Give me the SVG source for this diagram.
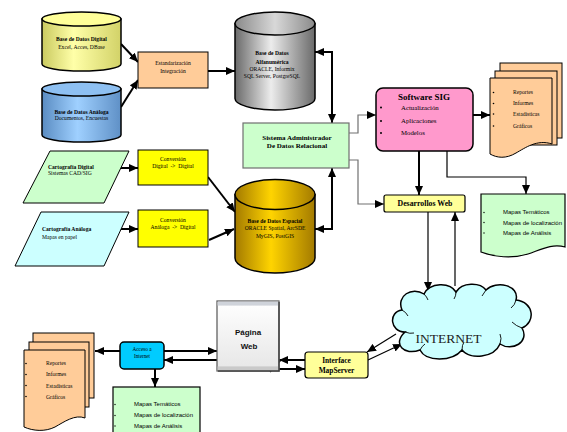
<svg xmlns="http://www.w3.org/2000/svg" width="567" height="432" viewBox="0 0 567 432">
<defs>
<style>
.t{font-family:"Liberation Serif","Times New Roman",serif;fill:#000;}
.s{font-size:5.6px;}
.b{font-weight:bold;}
.a{font-family:"Liberation Sans",Arial,sans-serif;fill:#000;font-size:6px;}
.c{text-anchor:middle;}
.ln{fill:none;stroke:#000;stroke-width:2;}
.th{fill:none;stroke:#000;stroke-width:1.2;}
.gr{fill:none;stroke:#707070;stroke-width:1.2;}
.bx{stroke:#000;stroke-width:1;}
.dot{fill:#000;}
</style>
<marker id="ah" viewBox="0 0 9 8" refX="9" refY="4" markerWidth="9" markerHeight="8" markerUnits="userSpaceOnUse" orient="auto-start-reverse"><path d="M0,0 L9,4 L0,8 Z" fill="#000"/></marker>
<linearGradient id="gY" x1="0" x2="1" y1="0" y2="0"><stop offset="0" stop-color="#caca60"/><stop offset="0.4" stop-color="#ffffa8"/><stop offset="1" stop-color="#d2d268"/></linearGradient>
<linearGradient id="gB" x1="0" x2="1" y1="0" y2="0"><stop offset="0" stop-color="#5a8cc2"/><stop offset="0.45" stop-color="#9fd0ff"/><stop offset="1" stop-color="#5f90c6"/></linearGradient>
<linearGradient id="gG" x1="0" x2="1" y1="0" y2="0"><stop offset="0" stop-color="#6a6a6a"/><stop offset="0.45" stop-color="#ececec"/><stop offset="1" stop-color="#6a6a6a"/></linearGradient>
<linearGradient id="gO" x1="0" x2="1" y1="0" y2="0"><stop offset="0" stop-color="#a37a00"/><stop offset="0.45" stop-color="#ffd400"/><stop offset="1" stop-color="#a37a00"/></linearGradient>
<linearGradient id="gGt" x1="0" x2="1" y1="0" y2="0"><stop offset="0" stop-color="#8a8a8a"/><stop offset="0.5" stop-color="#d8d8d8"/><stop offset="1" stop-color="#8a8a8a"/></linearGradient>
<linearGradient id="gP" x1="0" x2="0" y1="0" y2="1"><stop offset="0" stop-color="#ffffff"/><stop offset="1" stop-color="#e6e6e6"/></linearGradient>
</defs>
<rect width="567" height="432" fill="#fff"/>

<g id="connectors">
<path class="ln" d="M121,44 L138,62" marker-end="url(#ah)"/>
<path class="ln" d="M121,107 L138,80" marker-end="url(#ah)"/>
<path class="ln" d="M208,71 L235,71" marker-end="url(#ah)"/>
<path class="ln" d="M315,52 H332 V123" marker-start="url(#ah)" marker-end="url(#ah)"/>
<path class="ln" d="M315,229 H332 V168" marker-start="url(#ah)" marker-end="url(#ah)"/>
<path class="gr" d="M349,133 H358 V115 H376" marker-end="url(#ah)"/>
<path class="gr" d="M349,160 H358 V204 H384" marker-end="url(#ah)"/>
<path class="ln" d="M473,115 H490" marker-end="url(#ah)"/>
<path class="ln" d="M419,151 V195" marker-end="url(#ah)"/>
<path class="th" d="M447,151 V177 H526 V194" marker-end="url(#ah)"/>
<path class="th" d="M428,212 V291" marker-end="url(#ah)"/>
<path class="th" d="M455,286 V212" marker-end="url(#ah)"/>
<path class="th" d="M396,334 L367,352" marker-end="url(#ah)"/>
<path class="th" d="M368,360 L402,344" marker-end="url(#ah)"/>
<path class="ln" d="M305,360 H279" marker-end="url(#ah)"/>
<path class="ln" d="M279,369 H305" marker-end="url(#ah)"/>
<path class="th" d="M270,372 L281,360"/>
<path class="ln" d="M120,351 H95" marker-end="url(#ah)"/>
<path class="ln" d="M164,351 H217" marker-end="url(#ah)"/>
<path class="ln" d="M217,360 H164" marker-end="url(#ah)"/>
<path class="ln" d="M155,369 V387" marker-end="url(#ah)"/>
<path class="ln" d="M120,168 H138" marker-end="url(#ah)"/>
<path class="ln" d="M120,229 H138" marker-end="url(#ah)"/>
<path class="ln" d="M208,177 L235,212" marker-end="url(#ah)"/>
<path class="ln" d="M209,240 L234,229" marker-end="url(#ah)"/>
</g>

<g id="bd-digital">
<path d="M42,19 V64 A39.5,7 0 0 0 121,64 V19 Z" fill="url(#gY)" stroke="#000" stroke-width="1.5"/>
<ellipse cx="81.5" cy="19" rx="39.5" ry="7" fill="#ffff99" stroke="#000" stroke-width="1.5"/>
<text class="t s b c" x="81.5" y="41">Base de Datos Digital</text>
<text class="t s c" x="81.5" y="48.5">Excel, Acces, DBase</text>
</g>

<g id="bd-analoga">
<path d="M42,89 V135 A39.5,7 0 0 0 121,135 V89 Z" fill="url(#gB)" stroke="#000" stroke-width="1.5"/>
<ellipse cx="81.5" cy="89" rx="39.5" ry="7" fill="#8ec0f2" stroke="#000" stroke-width="1.5"/>
<text class="t s b c" x="81.5" y="113.5">Base de Datos Análoga</text>
<text class="t s c" x="81.5" y="120">Documentos, Encuestas</text>
</g>

<g id="estandarizacion">
<rect class="bx" x="138" y="52" width="70" height="36" fill="#ffcc99"/>
<text class="t s c" x="173" y="64.5">Estandarización</text>
<text class="t s c" x="173" y="72.5">Integración</text>
</g>

<g id="bd-alfanumerica">
<path d="M235,23.5 V98.5 A40,11.5 0 0 0 315,98.5 V23.5 Z" fill="url(#gG)" stroke="#000" stroke-width="1.5"/>
<ellipse cx="275" cy="23.5" rx="40" ry="11.5" fill="url(#gGt)" stroke="#000" stroke-width="1.5"/>
<text class="t s b c" x="272" y="55">Base de Datos</text>
<text class="t s b c" x="272" y="63.5">Alfanumérica</text>
<text class="t s c" x="272" y="71">ORACLE, Informix</text>
<text class="t s c" x="272" y="78">SQL Server, PostgreSQL</text>
</g>

<g id="sistema">
<rect x="243" y="123" width="106" height="45" fill="#ccffcc" stroke="#6f6f6f" stroke-width="1.2"/>
<text class="t b c" style="font-size:7px" x="297" y="140">Sistema Administrador</text>
<text class="t b c" style="font-size:7px" x="297" y="148">De Datos Relacional</text>
</g>

<g id="cart-digital">
<polygon class="bx" points="50,151 129,151 104,203 23,203" fill="#ccffcc"/>
<text class="t s b" x="48" y="169">Cartografía Digital</text>
<text class="t s" x="48" y="175">Sistemas CAD/SIG</text>
</g>

<g id="cart-analoga">
<polygon class="bx" points="41,212 129,212 104,266 15,266" fill="#ccffff"/>
<text class="t s b" x="42" y="231">Cartografía Análoga</text>
<text class="t s" x="42" y="238.5">Mapas en papel</text>
</g>

<g id="conv-digital">
<rect class="bx" x="138" y="150" width="70" height="35" fill="#ffff00"/>
<text class="t s c" x="173" y="161">Conversión</text>
<text class="t s c" x="173" y="168" xml:space="preserve">Digital  -&gt;  Digital</text>
</g>

<g id="conv-analoga">
<rect class="bx" x="138" y="210" width="70" height="37" fill="#ffff00"/>
<text class="t s c" x="173" y="222">Conversión</text>
<text class="t s c" x="173" y="229" xml:space="preserve">Análoga  -&gt;  Digital</text>
</g>

<g id="bd-espacial">
<path d="M235,194.5 V258 A40,15 0 0 0 315,258 V194.5 Z" fill="url(#gO)" stroke="#000" stroke-width="1.5"/>
<ellipse cx="275" cy="194.5" rx="40" ry="15" fill="url(#gO)" stroke="#000" stroke-width="1.5"/>
<text class="t s b c" x="275" y="223">Base de Datos Espacial</text>
<text class="t s c" x="275" y="230">ORACLE Spatial, ArcSDE</text>
<text class="t s c" x="275" y="237.5">MyGIS, PostGIS</text>
</g>

<g id="software-sig">
<rect x="376" y="88" width="97" height="63" rx="7" fill="#ff99cc" stroke="#000" stroke-width="1.5"/>
<text class="t b c" style="font-size:9px" x="424" y="100">Software SIG</text>
<circle class="dot" cx="381" cy="107.5" r="1"/>
<circle class="dot" cx="381" cy="121" r="1"/>
<circle class="dot" cx="381" cy="133" r="1"/>
<text class="t" style="font-size:6.8px" x="401" y="109.5">Actualización</text>
<text class="t" style="font-size:6.8px" x="401" y="123">Aplicaciones</text>
<text class="t" style="font-size:6.8px" x="401" y="135">Modelos</text>
</g>

<g id="reportes-sig">
<rect class="bx" x="500" y="63" width="62" height="75" fill="#ffcc99" stroke-width="1.3"/>
<rect class="bx" x="495" y="71" width="62" height="74" fill="#ffcc99" stroke-width="1.3"/>
<path d="M490,78 H552 V144 C537,139 525,148 516,153 C506,159 497,158 490,154 Z" fill="#ffcc99" stroke="#000" stroke-width="1"/>
<circle class="dot" cx="493.5" cy="92.5" r="0.8"/>
<circle class="dot" cx="493.5" cy="103.5" r="0.8"/>
<circle class="dot" cx="493.5" cy="114" r="0.8"/>
<circle class="dot" cx="493.5" cy="126" r="0.8"/>
<text class="t s" x="513" y="94">Reportes</text>
<text class="t s" x="513" y="105">Informes</text>
<text class="t s" x="513" y="116">Estadísticas</text>
<text class="t s" x="513" y="128">Gráficos</text>
</g>

<g id="desarrollos-web">
<rect x="384" y="195" width="81" height="17" rx="2" fill="#ffff99" stroke="#000" stroke-width="1.2"/>
<text class="t b c" style="font-size:7.8px" x="425" y="206">Desarrollos Web</text>
</g>

<g id="mapas-sig">
<path d="M481,194 H565 V247 C552,243 540,250 528,254 C512,259 494,257 481,252 Z" fill="#ccffcc" stroke="#000" stroke-width="1.2"/>
<circle class="dot" cx="484" cy="212.5" r="0.7"/>
<circle class="dot" cx="484" cy="222.5" r="0.7"/>
<circle class="dot" cx="484" cy="233" r="0.7"/>
<text class="a" x="503" y="214">Mapas Temáticos</text>
<text class="a" x="503" y="224.5">Mapas de localización</text>
<text class="a" x="503" y="235">Mapas de Análisis</text>
</g>

<g id="internet">
<path d="M405,332 C390,332 388,312 402,310 C396,296 412,286 424,294 C430,282 450,282 456,292 C462,282 480,282 486,290 C496,280 520,285 516,300 C534,302 536,322 522,328 C530,342 512,352 500,344 C494,358 470,360 462,350 C452,362 426,362 420,350 C404,356 392,344 405,332 Z" fill="#ccffff" stroke="#000" stroke-width="1.5"/>
<path d="M402,310 Q406,312 408,316 M424,294 Q427,297 428,300 M456,292 Q456,296 454,299 M486,290 Q484,293 482,296 M516,300 Q515,305 511,308 M522,328 Q516,326 512,322 M500,344 Q502,338 500,334 M462,350 Q462,345 464,342 M420,350 Q422,346 425,344 M405,332 Q410,334 414,333" fill="none" stroke="#000" stroke-width="0.9"/>
<text class="t c" style="font-size:13.5px;fill:#222" x="448.5" y="343">INTERNET</text>
</g>

<g id="interface-mapserver">
<rect x="305" y="352" width="63" height="26" rx="3" fill="#ffff99" stroke="#000" stroke-width="1.2"/>
<text class="t b c" style="font-size:7.4px" x="336.5" y="363">Interface</text>
<text class="t b c" style="font-size:7.4px" x="336.5" y="372.5">MapServer</text>
</g>

<g id="pagina-web">
<rect x="217" y="301" width="62" height="70" fill="url(#gP)" stroke="#555" stroke-width="1.2"/>
<rect x="217.6" y="301.6" width="60.8" height="4" fill="#cfd3da"/>
<rect x="217.6" y="366.4" width="60.8" height="4" fill="#c9c9c9"/>
<path d="M279,302 V371 H218" fill="none" stroke="#444" stroke-width="1.5"/>
<text class="c" style="font-family:'Liberation Sans',Arial,sans-serif;font-weight:bold;font-size:8px;fill:#111" x="248" y="334.5">Página</text>
<text class="c" style="font-family:'Liberation Sans',Arial,sans-serif;font-weight:bold;font-size:8px;fill:#111" x="249" y="349">Web</text>
</g>

<g id="acceso-internet">
<rect x="120" y="342" width="44" height="27" rx="4" fill="#00ccff" stroke="#000" stroke-width="1.5"/>
<text class="t c" style="font-size:5.2px" x="142" y="351">Acceso a</text>
<text class="t c" style="font-size:5.2px" x="142" y="357.5">Internet</text>
</g>

<g id="reportes-web">
<rect class="bx" x="33" y="333" width="61" height="65" fill="#ffcc99" stroke-width="1.3"/>
<rect class="bx" x="29" y="342" width="60" height="65" fill="#ffcc99" stroke-width="1.3"/>
<path d="M24,350 H85 V418 C75,414 64,422 55,427 C45,432 33,431 24,427 Z" fill="#ffcc99" stroke="#000" stroke-width="1"/>
<circle class="dot" cx="26" cy="363.5" r="0.8"/>
<circle class="dot" cx="26" cy="374.5" r="0.8"/>
<circle class="dot" cx="26" cy="385.5" r="0.8"/>
<circle class="dot" cx="26" cy="396.5" r="0.8"/>
<text class="t s" x="46" y="365">Reportes</text>
<text class="t s" x="46" y="376">Informes</text>
<text class="t s" x="46" y="387.5">Estadísticas</text>
<text class="t s" x="46" y="398.5">Gráficos</text>
</g>

<g id="mapas-web">
<rect x="113" y="387" width="87" height="60" fill="#ccffcc" stroke="#000" stroke-width="1.2"/>
<circle class="dot" cx="115" cy="404.5" r="0.7"/>
<circle class="dot" cx="115" cy="415.5" r="0.7"/>
<circle class="dot" cx="115" cy="426" r="0.7"/>
<text class="a" x="134" y="406">Mapas Temáticos</text>
<text class="a" x="134" y="417">Mapas de localización</text>
<text class="a" x="134" y="428">Mapas de Análisis</text>
</g>
</svg>
